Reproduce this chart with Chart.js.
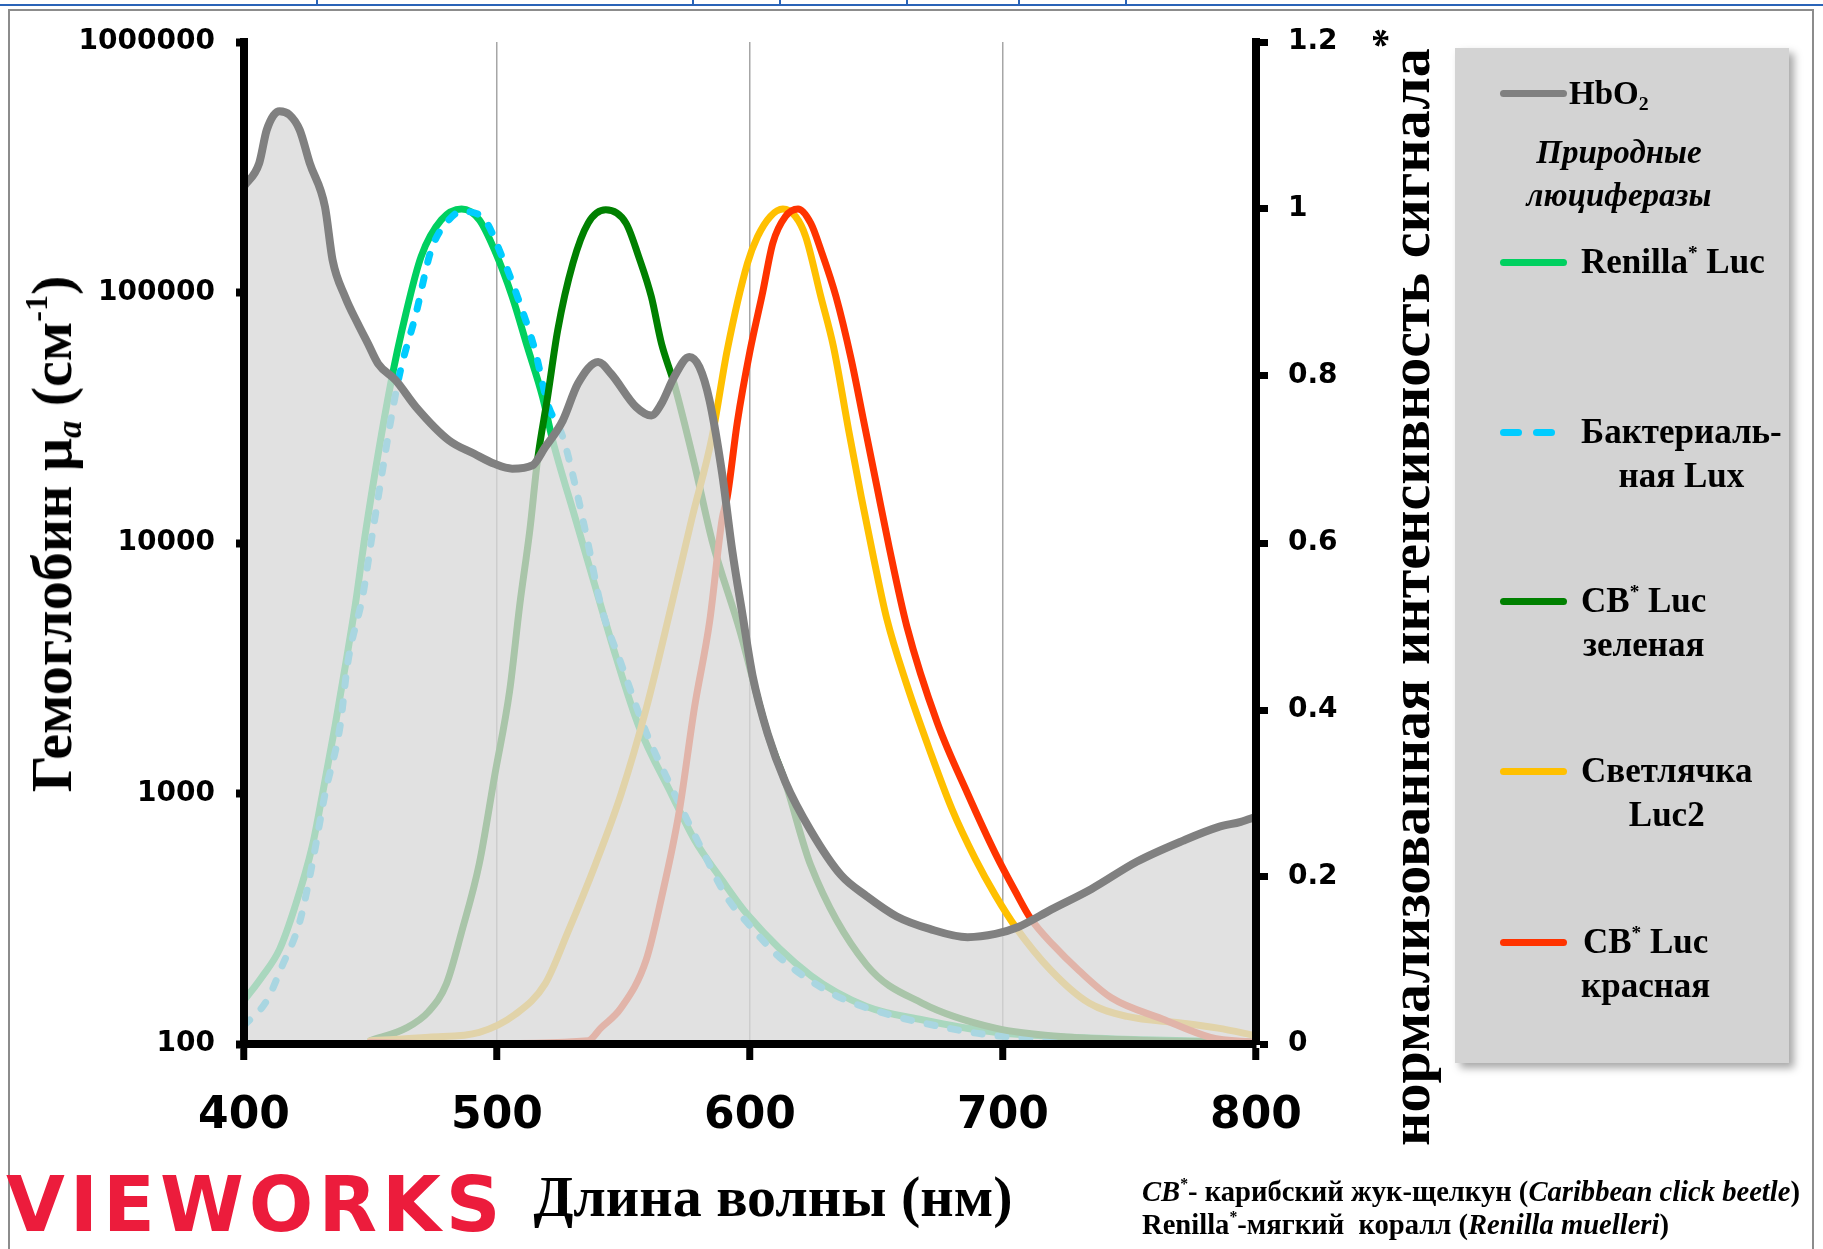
<!DOCTYPE html>
<html lang="ru">
<head>
<meta charset="UTF-8">
<title>Гемоглобин и люциферазы</title>
<script src="https://cdn.jsdelivr.net/npm/chart.js@4"></script>
<style>
  html, body { margin: 0; padding: 0; background: #fff; }
  #wrap { position: relative; width: 1823px; height: 1249px; overflow: hidden; font-family: "Liberation Serif", serif; }
  #chart { position: absolute; left: 0; top: 0; }
  .frame { position: absolute; left: 8px; top: 9px; width: 1806px; height: 1300px; border: 2px solid #8c8c8c; box-sizing: border-box; }
  .blue { position: absolute; background: #2a64b8; }
  .txt { position: absolute; white-space: nowrap; font-weight: bold; color: #000; line-height: 1; }
  .c { transform: translate(-50%, -50%); }
  .rot { transform: translate(-50%, -50%) rotate(-90deg); }
  .vl { transform: translateY(-50%); }
  .sup { font-size: 0.55em; vertical-align: 0.75em; line-height: 0; }
  .sub { font-size: 0.6em; vertical-align: -0.3em; line-height: 0; }
  .legend { position: absolute; left: 1455px; top: 48px; width: 334px; height: 1015px; background: #d3d3d3; box-shadow: 5px 5px 8px rgba(0,0,0,0.35); }
  .sample { position: absolute; height: 7px; border-radius: 4px; }
  .block { position: absolute; text-align: center; font-weight: bold; font-size: 35px; line-height: 44px; white-space: nowrap; }
</style>
</head>
<body>
<div id="wrap">
  <div class="frame"></div>
  <div class="blue" style="left:0;top:4px;width:1823px;height:2px"></div>
  <div id="marks"></div>

  <canvas id="chart" width="1823" height="1249"></canvas>

  <div class="txt rot" style="left:52px;top:534px;font-size:58px">Гемоглобин μ<span class="sub"><i>a</i></span> (см<span class="sup">-1</span>)</div>
  <div class="txt rot" style="left:1410px;top:587px;font-size:58px">нормализованная интенсивность сигнала<span class="sup" style="font-size:0.7em">*</span></div>
  <div class="txt c" style="left:773px;top:1197px;font-size:58px">Длина волны (нм)</div>

  <div class="txt vl" style="left:6px;top:1205px;font-family:'DejaVu Sans';font-size:76px;letter-spacing:5px;color:#ec1c3c">VIEWORKS</div>

  <div class="txt vl" style="left:1142px;top:1192px;font-size:28.6px"><i>CB</i><span class="sup">*</span>- карибский жук-щелкун (<i>Caribbean click beetle</i>)</div>
  <div class="txt vl" style="left:1142px;top:1225px;font-size:28.6px">Renilla<span class="sup">*</span>-мягкий&nbsp; коралл (<i>Renilla muelleri</i>)</div>

  <div class="legend"></div>
  <div id="legendItems"></div>
</div>

<script>
  // ticks
  const xTicks = [400, 500, 600, 700, 800];
  const leftTicks = [100, 1000, 10000, 100000, 1000000];
  const rightTicks = [0, 0.2, 0.4, 0.6, 0.8, 1, 1.2];

  // HbO2, cm-1 (left log axis)
  const hbWl = [400, 406, 409, 414, 418, 422, 426, 432, 435, 440, 445, 449, 453, 460, 468, 481, 491, 499,
                506, 514, 519, 526, 532, 540, 545, 555, 561, 565, 570, 576, 580, 584, 589, 593, 597,
                601, 607, 614, 624, 636, 646, 658, 671, 686, 697, 706, 719, 735, 753, 771, 785, 794, 800];
  const hbVal = [265000, 328000, 446000, 529000, 512000, 446000, 328000, 220000, 135000, 96000, 75000, 62500,
                 52000, 44600, 34900, 25700, 22700, 20700, 19800, 20400, 24100, 30800, 43300, 52800, 47500,
                 34900, 32300, 36000, 46000, 55300, 50400, 37100, 18900, 9300, 5200, 2960, 1730, 1110, 711,
                 472, 390, 323, 288, 267, 275, 293, 344, 416, 535, 647, 734, 771, 807];

  // luciferases, normalized signal (right axis)
  const renWl = [400, 407, 414, 420, 427, 431, 436, 440, 444, 448, 458, 464, 470, 478, 486, 493, 499, 506,
                 512, 518, 522, 531, 539, 547, 556, 569, 578, 589, 599, 624, 646, 668, 697, 727, 756, 800];
  const renVal = [0.052, 0.08, 0.113, 0.163, 0.237, 0.299, 0.381, 0.452, 0.526, 0.612, 0.791, 0.875, 0.943,
                  0.987, 1.0, 0.987, 0.951, 0.895, 0.835, 0.775, 0.723, 0.629, 0.546, 0.464, 0.381, 0.299,
                  0.245, 0.196, 0.155, 0.082, 0.045, 0.029, 0.014, 0.008, 0.005, 0.002];

  const luxWl = [400, 409, 415, 422, 427, 432, 438, 441, 447, 451, 461, 468, 474, 481, 486, 494, 502, 509,
                 515, 520, 526, 532, 536, 541, 549, 559, 569, 581, 591, 599, 612, 634, 653, 675, 697, 750];
  const luxVal = [0.022, 0.052, 0.093, 0.146, 0.216, 0.299, 0.381, 0.456, 0.538, 0.616, 0.795, 0.875, 0.951,
                  0.987, 0.997, 0.991, 0.943, 0.887, 0.831, 0.767, 0.727, 0.655, 0.599, 0.526, 0.456, 0.373,
                  0.307, 0.233, 0.175, 0.145, 0.103, 0.058, 0.037, 0.021, 0.01, 0.004];

  const cbgWl = [450, 464, 473, 480, 486, 493, 499, 505, 509, 513, 516, 520, 524, 530, 536, 543, 551, 556,
                 561, 565, 570, 578, 585, 596, 607, 614, 624, 646, 668, 697, 727, 760, 800];
  const cbgVal = [0.004, 0.019, 0.039, 0.072, 0.134, 0.216, 0.32, 0.423, 0.526, 0.616, 0.699, 0.775, 0.855,
                  0.935, 0.983, 0.999, 0.983, 0.943, 0.895, 0.839, 0.791, 0.695, 0.603, 0.495, 0.371, 0.313,
                  0.214, 0.095, 0.049, 0.019, 0.008, 0.004, 0.002];

  const ffWl = [450, 473, 493, 507, 519, 528, 539, 549, 559, 569, 577, 585, 591, 599, 603, 608, 613, 618,
                622, 628, 633, 639, 644, 649, 654, 662, 671, 680, 689, 697, 705, 719, 734, 749, 771, 785, 800];
  const ffVal = [0.004, 0.008, 0.014, 0.035, 0.072, 0.134, 0.216, 0.299, 0.402, 0.526, 0.629, 0.727, 0.831,
                 0.935, 0.967, 0.991, 1.0, 0.991, 0.967, 0.895, 0.835, 0.735, 0.655, 0.58, 0.51, 0.43,
                 0.352, 0.28, 0.222, 0.178, 0.14, 0.088, 0.049, 0.033, 0.025, 0.019, 0.01];

  const cbrWl = [450, 486, 536, 541, 549, 559, 565, 572, 578, 584, 589, 591, 595, 600, 605, 609, 614, 619,
                 624, 628, 634, 640, 645, 650, 655, 662, 674, 686, 697, 705, 711, 720, 730, 743, 763, 782, 800];
  const cbrVal = [0.002, 0.0, 0.004, 0.019, 0.043, 0.101, 0.175, 0.278, 0.402, 0.505, 0.629, 0.655, 0.745,
                  0.83, 0.9, 0.959, 0.991, 1.0, 0.983, 0.951, 0.895, 0.82, 0.745, 0.67, 0.595, 0.5, 0.385,
                  0.3, 0.228, 0.182, 0.15, 0.118, 0.088, 0.055, 0.03, 0.008, 0.002];

  const colHb = '#808080';
  const colRen = '#00d060';
  const colLux = '#00ccff';
  const colCbg = '#008000';
  const colFf = '#ffc000';
  const colCbr = '#ff3300';

  function pts(wl, val) {
    return wl.map((x, i) => ({ x: x, y: val[i] }));
  }

  // little blue marks along the top edge
  const blueMarks = [316, 692, 779, 906, 1018, 1125];
  document.getElementById('marks').innerHTML = blueMarks
    .map(x => `<div class="blue" style="left:${x}px;top:0;width:2px;height:6px"></div>`).join('');

  // legend
  const legendEntries = [
    { color: colHb, y: 93, single: 'HbO<span class="sub">2</span>' },
    { color: colRen, y: 262, lines: ['Renilla<span class="sup">*</span> Luc'] },
    { color: colLux, y: 432, dash: true, lines: ['Бактериаль-', 'ная Lux'] },
    { color: colCbg, y: 601, lines: ['CB<span class="sup">*</span> Luc', 'зеленая'] },
    { color: colFf, y: 771, lines: ['Светлячка', 'Luc2'] },
    { color: colCbr, y: 942, lines: ['CB<span class="sup">*</span> Luc', 'красная'] }
  ];
  let lg = '';
  legendEntries.forEach(e => {
    if (e.dash) {
      lg += `<div class="sample" style="left:1500px;top:${e.y - 3.5}px;width:22px;background:${e.color}"></div>`;
      lg += `<div class="sample" style="left:1533px;top:${e.y - 3.5}px;width:22px;background:${e.color}"></div>`;
    } else {
      lg += `<div class="sample" style="left:1500px;top:${e.y - 3.5}px;width:67px;background:${e.color}"></div>`;
    }
    if (e.single) {
      lg += `<div class="block" style="left:1569px;top:${e.y - 22}px;font-size:33px">${e.single}</div>`;
    } else {
      lg += `<div class="block" style="left:1581px;top:${e.y - 22}px">${e.lines.map(l => `<div>${l}</div>`).join('')}</div>`;
    }
  });
  lg += `<div class="block" style="left:1519px;width:200px;top:131px;font-style:italic;font-size:33px;line-height:43px"><div>Природные</div><div>люциферазы</div></div>`;
  document.getElementById('legendItems').innerHTML = lg;

  // the area fill covers the inner half of the axis lines; paint that half black again
  const axisInner = {
    id: 'axisInner',
    afterDatasetsDraw(chart) {
      const { ctx, chartArea: a } = chart;
      ctx.save();
      ctx.fillStyle = '#000';
      ctx.fillRect(a.left, a.top, 4, a.bottom - a.top);
      ctx.fillRect(a.right - 4, a.top, 4, a.bottom - a.top);
      ctx.fillRect(a.left, a.bottom - 4, a.right - a.left, 4);
      ctx.restore();
    }
  };

  const tickFont = { family: 'DejaVu Sans', size: 28, weight: 'bold' };

  new Chart(document.getElementById('chart'), {
    type: 'line',
    data: {
      datasets: [
        { label: 'HbO2', data: pts(hbWl, hbVal), yAxisID: 'y', borderColor: colHb, borderWidth: 8,
          fill: 'start', backgroundColor: 'rgba(217,217,217,0.78)', order: 0 },
        { label: 'CB Luc красная', data: pts(cbrWl, cbrVal), yAxisID: 'y1', borderColor: colCbr, borderWidth: 7, order: 1 },
        { label: 'Светлячка Luc2', data: pts(ffWl, ffVal), yAxisID: 'y1', borderColor: colFf, borderWidth: 7, order: 2 },
        { label: 'CB Luc зеленая', data: pts(cbgWl, cbgVal), yAxisID: 'y1', borderColor: colCbg, borderWidth: 7, order: 3 },
        { label: 'Бактериальная Lux', data: pts(luxWl, luxVal), yAxisID: 'y1', borderColor: colLux, borderWidth: 7,
          borderDash: [8, 16], order: 4 },
        { label: 'Renilla Luc', data: pts(renWl, renVal), yAxisID: 'y1', borderColor: colRen, borderWidth: 7, order: 5 }
      ]
    },
    options: {
      responsive: false,
      animation: false,
      layout: { padding: { top: 42, left: 0, right: 0, bottom: 0 } },
      elements: {
        point: { radius: 0 },
        line: { cubicInterpolationMode: 'monotone', borderCapStyle: 'round', borderJoinStyle: 'round', fill: false }
      },
      plugins: { legend: { display: false }, tooltip: { enabled: false } },
      scales: {
        x: {
          type: 'linear', position: 'bottom', min: 400, max: 800,
          afterBuildTicks: s => { s.ticks = xTicks.map(v => ({ value: v })); },
          afterFit: s => { s.height = 205; },
          border: { color: '#000', width: 8 },
          grid: { color: '#a6a6a6', lineWidth: 1.5, tickColor: '#000', tickWidth: 7, tickLength: 16 },
          ticks: { font: { family: 'DejaVu Sans', size: 44, weight: 'bold' }, color: '#000', padding: 30,
                   maxRotation: 0, callback: v => String(v) }
        },
        y: {
          type: 'logarithmic', position: 'left', min: 100, max: 1000000,
          afterBuildTicks: s => { s.ticks = leftTicks.map(v => ({ value: v })); },
          afterFit: s => { s.width = 244; },
          border: { color: '#000', width: 8 },
          grid: { drawOnChartArea: false, tickColor: '#000', tickWidth: 8, tickLength: 8 },
          ticks: { font: tickFont, color: '#000', padding: 21, callback: v => String(v) }
        },
        y1: {
          type: 'linear', position: 'right', min: 0, max: 1.2,
          afterBuildTicks: s => { s.ticks = rightTicks.map(v => ({ value: v })); },
          afterFit: s => { s.width = 567; },
          border: { color: '#000', width: 8 },
          grid: { drawOnChartArea: false, tickColor: '#000', tickWidth: 7, tickLength: 12 },
          ticks: { font: tickFont, color: '#000', padding: 20, callback: v => String(+v.toFixed(1)) }
        }
      }
    },
    plugins: [axisInner]
  });
</script>
</body>
</html>
